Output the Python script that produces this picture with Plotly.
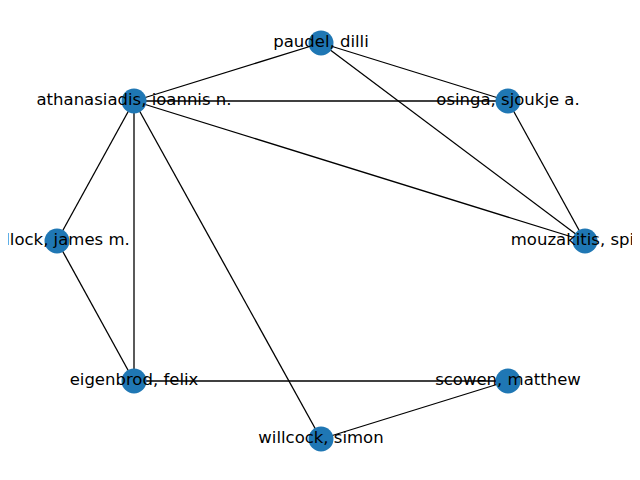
import plotly.graph_objects as go

names = ["paudel, dilli", "osinga, sjoukje a.", "mouzakitis, spiros", "scowen, matthew",
         "willcock, simon", "eigenbrod, felix", "bullock, james m.", "athanasiadis, ioannis n."]
xs = [320, 507, 584, 507, 320, 133, 56, 133]
ys = [41, 99, 239, 379, 437, 379, 239, 99]
edges = [(0, 7), (0, 1), (0, 2), (7, 1), (7, 2), (1, 2),
         (7, 6), (7, 5), (7, 4), (6, 5), (5, 3), (3, 4)]

ex, ey = [], []
for a, b in edges:
    ex += [xs[a], xs[b], None]
    ey += [ys[a], ys[b], None]

fig = go.Figure()
fig.add_trace(go.Scatter(x=ex, y=ey, mode="lines", line=dict(color="black", width=1.3),
                         hoverinfo="skip"))
fig.add_trace(go.Scatter(x=xs, y=ys, mode="markers+text", text=names, textposition="middle center",
                         marker=dict(size=25, color="#1f77b4"), cliponaxis=False,
                         textfont=dict(family="DejaVu Sans", size=16.5, color="black")))
fig.update_layout(width=640, height=480, margin=dict(l=0, r=0, t=0, b=0),
                  plot_bgcolor="white", paper_bgcolor="white", showlegend=False)
fig.update_xaxes(range=[7, 647], visible=False)
fig.update_yaxes(range=[486, 6], visible=False)
fig.write_html("out.html")
